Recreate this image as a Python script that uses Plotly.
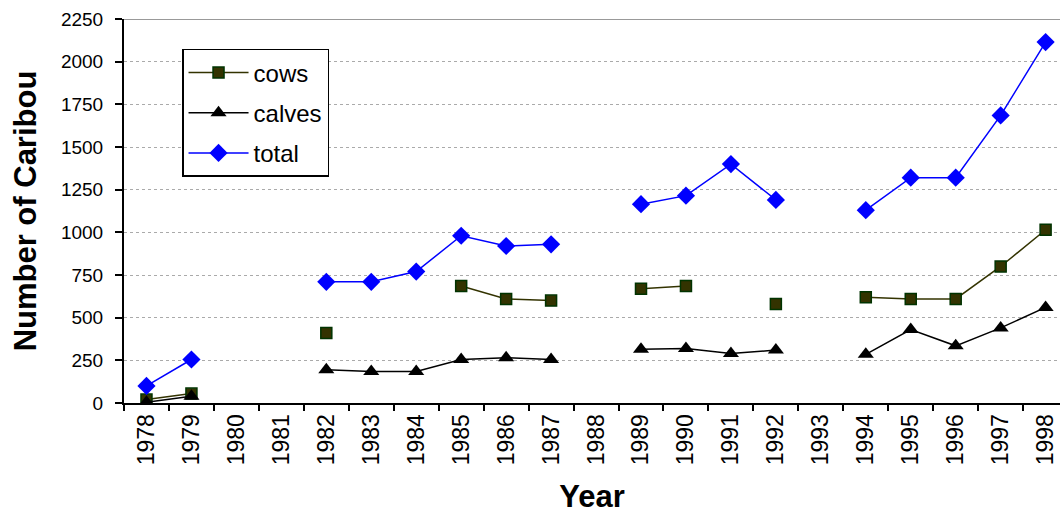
import plotly.graph_objects as go

years = [str(y) for y in range(1978, 1999)]
cows = [20, 55, None, None, 410, None, None, 685, 610, 600, None, 670, 685, None, 580, None, 620, 610, 610, 800, 1015]
calves = [5, 40, None, None, 195, 185, 185, 255, 265, 255, None, 315, 320, 290, 310, None, 285, 430, 335, 440, 560]
total = [100, 255, None, None, 710, 710, 770, 980, 920, 930, None, 1165, 1215, 1400, 1190, None, 1130, 1320, 1320, 1685, 2115]
y_ticks = [0, 250, 500, 750, 1000, 1250, 1500, 1750, 2000, 2250]

FONT = "Liberation Sans, Arial, sans-serif"

fig = go.Figure()
fig.add_trace(go.Scatter(
    x=years, y=cows, name="cows", mode="lines+markers", connectgaps=False,
    legendgroup="a",
    line=dict(color="#333300", width=1.5),
    marker=dict(symbol="square", size=11, color="#333300", line=dict(color="#003300", width=1.5)),
))
fig.add_trace(go.Scatter(
    x=years, y=calves, name="calves", mode="lines+markers", connectgaps=False,
    legendgroup="b",
    line=dict(color="#000000", width=1.5),
    marker=dict(symbol="triangle-up", size=14, color="#000000"),
))
fig.add_trace(go.Scatter(
    x=years, y=total, name="total", mode="lines+markers", connectgaps=False,
    legendgroup="c",
    line=dict(color="#0000FF", width=1.5),
    marker=dict(symbol="diamond", size=14, color="#0000FF"),
))

fig.update_layout(
    width=1060, height=514,
    margin=dict(l=124, r=0, t=19, b=111),
    paper_bgcolor="white", plot_bgcolor="white",
    font=dict(family=FONT, color="black", size=19),
    showlegend=True,
    legend=dict(
        x=0.062, y=0.922, xanchor="left", yanchor="top",
        bgcolor="white", bordercolor="black", borderwidth=1.5,
        font=dict(size=24, family=FONT),
        tracegroupgap=6, itemwidth=60,
    ),
    xaxis=dict(
        type="category", categoryorder="array", categoryarray=years,
        range=[-0.5, 20.32], automargin=False,
        tickangle=-90, tickson="boundaries",
        ticks="outside", ticklen=6, tickcolor="black", tickwidth=1.5,
        showline=True, linecolor="black", linewidth=2,
        showgrid=False, zeroline=False,
        tickfont=dict(size=23, family=FONT),
        title=dict(text="<b>Year</b>", font=dict(size=31, family=FONT), standoff=22),
    ),
    yaxis=dict(
        range=[0, 2250], tickvals=y_ticks, automargin=False,
        ticks="outside", ticklen=7, tickcolor="black", tickwidth=1.5,
        ticklabelstandoff=8,
        showline=True, linecolor="black", linewidth=2,
        showgrid=True, gridcolor="#aaaaaa", griddash="dot", gridwidth=1,
        zeroline=False,
        tickfont=dict(size=19, family=FONT),
        title=dict(text="<b>Number of Caribou</b>", font=dict(size=31, family=FONT), standoff=15),
    ),
    shapes=[dict(type="line", xref="paper", yref="y", x0=0, x1=1, y0=2250, y1=2250,
                 line=dict(color="#999999", width=2))],
)

fig.write_html(
    "out.html",
    config={"displayModeBar": False},
    post_script="document.body.style.margin='0';document.body.style.overflow='hidden';",
)
